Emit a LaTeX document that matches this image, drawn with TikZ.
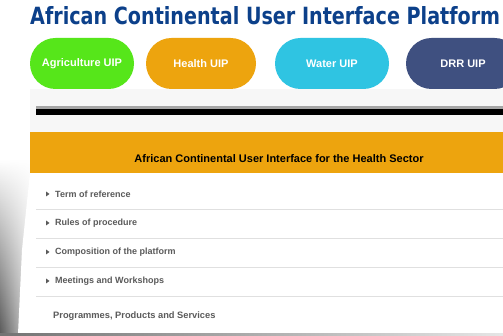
\documentclass[tikz,border=0pt]{standalone}
\usepackage{fontspec}
\setmainfont{Liberation Sans}
\newfontfamily\titlefont{DejaVu Sans}
\usetikzlibrary{positioning,fadings}
\definecolor{titleblue}{RGB}{12,64,138}
\definecolor{uipgreen}{RGB}{86,230,26}
\definecolor{uiporange}{RGB}{237,164,14}
\definecolor{uipcyan}{RGB}{47,196,226}
\definecolor{uipnavy}{RGB}{63,80,128}
\definecolor{itemgray}{RGB}{90,90,90}
\definecolor{panelgray}{RGB}{247,247,247}

\begin{document}
\begin{tikzpicture}[x=1pt,y=-1pt,
   pill/.style={rounded corners=25.5pt, minimum height=51pt, inner sep=0pt,
                text=white, font=\bfseries\fontsize{11}{13}\selectfont},
   item/.style={anchor=west, inner sep=0pt, text=itemgray,
                font=\bfseries\fontsize{9}{11}\selectfont},
   sepline/.style={draw=black!12, line width=0.8pt}]
   \useasboundingbox (0,0) rectangle (503,336);
   \clip (0,0) rectangle (503,336);
   \fill[white] (0,0) rectangle (503,336);
   % shadow on the left
   \shade[left color=black!65, right color=black!15, path fading=north]
      (0,160) -- (30,160) -- (30,336) -- (0,336) -- cycle;
   \fill[white] (30,173) -- (503,173) -- (503,334) -- (18,334) -- (22,250) -- cycle;
   \shade[left color=black!55, right color=black!10] (0,334) rectangle (503,336);
   % title
   \node[anchor=base west, inner sep=0pt, text=titleblue] (title) at (30,25)
      {\resizebox{470pt}{18pt}{\titlefont\bfseries African Continental User Interface Platform}};
   % pills
   \node[pill, fill=uipgreen, minimum width=104pt] (agri) at (82,63.5) {Agriculture UIP};
   \node[pill, fill=uiporange, minimum width=110pt] (health) at (201,63.5) {Health UIP};
   \node[pill, fill=uipcyan, minimum width=114pt] (water) at (332,63.5) {Water UIP};
   \node[pill, fill=uipnavy, minimum width=114pt] (drr) at (463,63.5) {DRR UIP};
   % bar
   \fill[panelgray] (30,89) rectangle (503,132);
   \fill[black!35] (36,106) rectangle (503,109);
   \fill[black] (36,109) rectangle (503,115);
   % header
   \fill[uiporange] (30,132) rectangle (503,173);
   \node[font=\bfseries\fontsize{11}{13}\selectfont, inner sep=0pt] (header) at (279,159)
      {African Continental User Interface for the Health Sector};
   % list
   \foreach \txt [count=\i] in {Term of reference, Rules of procedure,
         Composition of the platform, Meetings and Workshops} {
      \node[item] (item\i) at (55,{194+29*(\i-1)}) {\txt};
      \fill[itemgray] ([xshift=-9pt]item\i.west) ++(0,-2.5) -- ++(3.5,2.5) -- ++(-3.5,2.5) -- cycle;
      \draw[sepline] (36,{209+29*(\i-1)}) -- (503,{209+29*(\i-1)});
   }
   \node[item, font=\bfseries\fontsize{9.3}{11}\selectfont] (progs) at (53,316)
      {Programmes, Products and Services};
\end{tikzpicture}
\end{document}
